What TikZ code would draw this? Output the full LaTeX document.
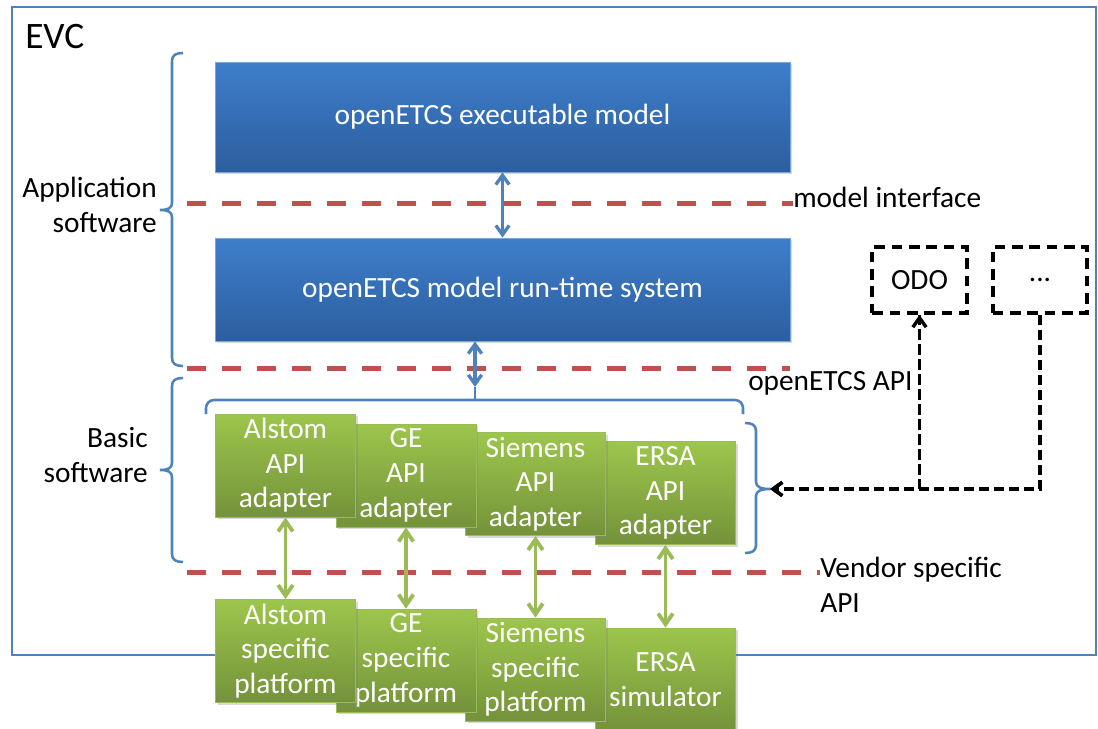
\documentclass[tikz,border=0pt]{standalone}
\usepackage{fontspec}
\setmainfont{Carlito}
\usetikzlibrary{arrows.meta,shadows}

\definecolor{evcblue}{RGB}{79,129,189}
\definecolor{boxtop}{RGB}{62,126,203}
\definecolor{boxbot}{RGB}{44,94,158}
\definecolor{greentop}{RGB}{157,198,76}
\definecolor{greenbot}{RGB}{116,146,58}
\definecolor{greenline}{RGB}{155,187,89}
\definecolor{ifacered}{RGB}{192,80,77}

\tikzset{
  txt/.style={font=\fontsize{22}{26}\selectfont, inner sep=0pt},
  boxshadow/.style={drop shadow={shadow xshift=1.5pt, shadow yshift=-1.5pt, opacity=0.3}},
  bluebox/.style={txt, text=white, top color=boxtop, bottom color=boxbot, draw=boxtop!70!white, line width=0.6pt, minimum width=431.25pt, boxshadow},
  greenbox/.style={txt, text=white, align=center, top color=greentop, bottom color=greenbot, draw=greenline, line width=0.6pt, minimum width=105pt, minimum height=77.25pt, boxshadow},
  extbox/.style={txt, draw=black, line width=2.8pt, dash pattern=on 8pt off 5pt, minimum width=71pt, minimum height=49.5pt},
  iface/.style={ifacered, line width=3.75pt, dash pattern=on 14.25pt off 12pt},
  bracket/.style={evcblue, line width=1.9pt},
  linkblue/.style={evcblue, line width=2.5pt, {Straight Barb[length=7pt,width=10pt]}-{Straight Barb[length=7pt,width=10pt]}},
  linkgreen/.style={greenline, line width=2.9pt, {Straight Barb[length=8pt,width=11pt]}-{Straight Barb[length=8pt,width=11pt]}},
  linkext/.style={black, line width=2.6pt, dash pattern=on 7.5pt off 3.75pt, -{Straight Barb[length=7pt,width=10pt]}}
}

\begin{document}
\begin{tikzpicture}[x=0.75pt, y=-0.75pt]
\useasboundingbox (0,0) rectangle (1098,728);
\clip (0,0) rectangle (1098,728);

\draw[evcblue, line width=1.6pt] (12,7) rectangle (1096,655);
\node[anchor=west, inner sep=0pt, font=\fontsize{28}{32}\selectfont] (label1) at (25,37) {EVC};

\node[bluebox, minimum height=82.5pt] (M) at (502.5,117) {openETCS executable model};
\node[bluebox, minimum height=77.25pt] (R) at (502.5,289.5) {openETCS model run-time system};

\node[txt, anchor=west] (label2) at (793,197) {model interface};
\node[txt, anchor=west] (label3) at (748,383) {openETCS API};
\node[txt, anchor=west, align=left] (label4) at (820,585) {Vendor specific\\API};
\node[txt, anchor=east, align=right] (label5) at (157,205) {Application\\software};
\node[txt, anchor=east, align=right] (label6) at (148,455) {Basic\\software};

\draw[iface] (187,203) -- (label2.west |- 0,203);
\draw[iface] (187,368) -- (790,368);
\draw[iface] (187,572) -- (label4.west |- 0,572);

\draw[bracket] (183,53) .. controls (176,53) and (172,55) .. (172,61) -- (172,203)
  .. controls (172,208) and (168,210) .. (160,210) .. controls (168,210) and (172,212) .. (172,217)
  -- (172,358) .. controls (172,364) and (176,366) .. (183,366);
\draw[bracket] (183,378) .. controls (176,378) and (172,380) .. (172,386) -- (172,463)
  .. controls (172,468) and (168,470) .. (160,470) .. controls (168,470) and (172,472) .. (172,477)
  -- (172,554) .. controls (172,560) and (176,562) .. (183,562);
\draw[bracket] (745,423) .. controls (752,423) and (756,425) .. (756,431) -- (756,482)
  .. controls (756,487) and (761,489) .. (770,489) .. controls (761,489) and (756,491) .. (756,496)
  -- (756,545) .. controls (756,551) and (752,553) .. (745,553);
\draw[bracket, rounded corners=6pt] (206,414) -- (206,400) -- (743,400) -- (743,414);

\coordinate (AS) at (475,387);
\coordinate (AT) at (475,400);
\coordinate (AE) at (770,489);

\node[greenbox] (A4) at (665.5,493) {ERSA\\API\\adapter};
\node[greenbox] (A3) at (535.5,484) {Siemens\\API\\adapter};
\node[greenbox] (A2) at (406,475.5) {GE\\API\\adapter};
\node[greenbox] (A1) at (285.5,465.5) {Alstom\\API\\adapter};

\node[greenbox] (P4) at (665.5,679.5) {ERSA\\simulator};
\node[greenbox] (P3) at (535.5,669.5) {Siemens\\specific\\platform};
\node[greenbox] (P2) at (406,660.5) {GE\\specific\\platform};
\node[greenbox] (P1) at (285.5,651) {Alstom\\specific\\platform};

\draw[linkblue] (M) -- (R);
\draw[linkblue] (R.south -| AS) -- (AS);
\draw[bracket] (AS) -- (AT);

\draw[linkgreen] (A1) -- (P1);
\draw[linkgreen] (A2) -- (P2);
\draw[linkgreen] (A3) -- (P3);
\draw[linkgreen] (A4) -- (P4);

\node[extbox] (O) at (919.5,280) {ODO};
\node[extbox] (X) at (1040,280) {...};

\draw[linkext] (AE -| O) -- (O);
\draw[linkext] (X) |- (AE);
\draw[linkext] (O) |- (AE);
\end{tikzpicture}
\end{document}
